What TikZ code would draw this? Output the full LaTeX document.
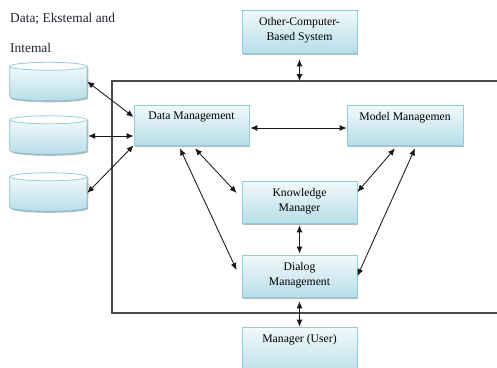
\documentclass[tikz,border=0pt]{standalone}
\usepackage{fontspec}
\setmainfont{Liberation Serif}
\usetikzlibrary{arrows.meta,shadows,calc}
\definecolor{bxtop}{HTML}{F2F9FB}
\definecolor{bxbot}{HTML}{B7DEE8}
\definecolor{bxline}{HTML}{92CDDC}
\definecolor{lbltext}{HTML}{2A1F33}
\tikzset{
  box/.style={rectangle, draw=bxline, line width=0.8pt, top color=bxtop, bottom color=bxbot,
    minimum width=115pt, inner sep=0pt,
    drop shadow={shadow xshift=1.3pt, shadow yshift=-1.6pt, fill=black!55, opacity=0.5}},
  txt/.style={font=\fontsize{11.7}{15}\selectfont, align=center, inner sep=0pt, anchor=north, yshift=-7.5pt},
  arr/.style={{Latex[length=7pt,width=6pt]}-{Latex[length=7pt,width=6pt]}, line width=0.85pt, black!90},
  framestyle/.style={line width=1.2pt, black!70},
  cylholder/.style={minimum width=77pt, minimum height=38pt, inner sep=0pt},
  toplbl/.style={anchor=base west, font=\fontsize{13.4}{15}\selectfont, inner sep=0pt, text=lbltext},
}
\newcommand{\drawcylinder}[1]{%
  \fill[top color=bxtop, bottom color=bxbot,
        drop shadow={shadow xshift=1.3pt, shadow yshift=-1.6pt, fill=black!55, opacity=0.5}]
    ([yshift=-4pt]#1.north west) -- ([yshift=4pt]#1.south west)
    arc[start angle=180, end angle=360, x radius=38.5pt, y radius=4pt]
    -- ([yshift=-4pt]#1.north east) -- cycle;
  \draw[bxline, line width=0.8pt]
    ([yshift=-4pt]#1.north west) -- ([yshift=4pt]#1.south west)
    arc[start angle=180, end angle=360, x radius=38.5pt, y radius=4pt]
    -- ([yshift=-4pt]#1.north east);
  \draw[bxline, line width=0.8pt, fill=white] ([yshift=-4pt]#1.north) ellipse[x radius=38.5pt, y radius=4pt];
}
\begin{document}
\begin{tikzpicture}[x=1pt,y=-1pt]
\clip (0,0) rectangle (497,367);
\fill[white] (0,0) rectangle (497,367);

% text at top left
\node[toplbl] (lbl1) at (10,22.5) {Data; Ekstemal and};
\node[toplbl] (lbl2) at (10,52) {Intemal};

% outer frame (open to the right)
\draw[framestyle] (498,81) -- (112,81) -- (112,313) -- (498,313);
\coordinate (ftop) at (299.5,81);

% cylinders
\node[cylholder] (c1) at (48.5,81.5) {};
\node[cylholder] (c2) at (48.5,135) {};
\node[cylholder] (c3) at (48.5,192) {};
\drawcylinder{c1}
\drawcylinder{c2}
\drawcylinder{c3}

% boxes
\node[box, minimum height=43pt, label={[txt]north:Other-Computer-\\Based System}] (oc) at (299.5,31.5) {};
\node[box, minimum height=40pt, label={[txt]north:Data Management}] (dm) at (191.5,125) {};
\node[box, minimum width=116pt, minimum height=40pt, label={[txt]north:Model Managemen}] (mm) at (405,125) {};
\node[box, minimum height=42pt, label={[txt]north:Knowledge\\Manager}] (km) at (299.5,202) {};
\node[box, minimum height=42pt, label={[txt]north:Dialog\\Management}] (dg) at (299.5,276) {};
\node[box, minimum height=50pt, label={[txt]north:Manager (User)}] (mu) at (299.5,352) {};

% connectors
\draw[arr] (c1.east) -- ([yshift=8pt]dm.west);
\draw[arr] ([xshift=1pt,yshift=-1pt]c2.east) -- ([yshift=-11pt]dm.west);
\draw[arr] ([yshift=-1pt]c3.east) -- (dm.south west);
\draw[arr] ([xshift=1pt,yshift=-3pt]dm.east) -- ([yshift=-3pt]mm.west);
\draw[arr] ([yshift=-6pt]oc.south) -- (ftop);
\draw[arr] ([xshift=-11.5pt,yshift=-3pt]dm.south) -- ([xshift=-5pt,yshift=6pt]dg.west);
\draw[arr] ([xshift=3.5pt,yshift=-3pt]dm.south) -- ([xshift=-5pt,yshift=9pt]km.west);
\draw[arr] ([xshift=-10pt,yshift=-3pt]mm.south) -- ([yshift=10pt]km.east);
\draw[arr] ([xshift=10pt,yshift=-3pt]mm.south) -- (dg.east);
\draw[arr] ([yshift=-2pt]km.south) -- ([yshift=1pt]dg.north);
\draw[arr] ([yshift=-4pt]dg.south) -- (mu.north);
\end{tikzpicture}
\end{document}
